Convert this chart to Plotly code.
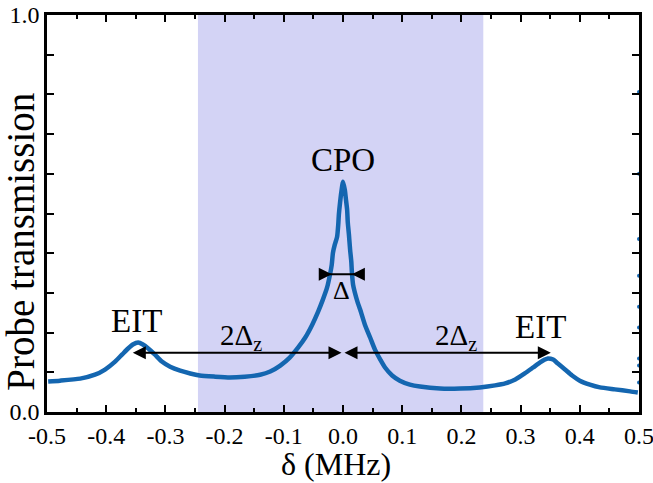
import plotly.graph_objects as go

delta_mhz = [-0.498, -0.478, -0.444, -0.419, -0.402, -0.385, -0.373, -0.363, -0.355,
             -0.346, -0.338, -0.329, -0.318, -0.306, -0.292, -0.275, -0.258, -0.242,
             -0.216, -0.191, -0.166, -0.140, -0.123, -0.106, -0.090, -0.076, -0.064,
             -0.052, -0.042, -0.034, -0.027, -0.022, -0.019, -0.017, -0.014, -0.010,
             -0.008, -0.007, -0.005, -0.003, 0.000, 0.003, 0.005, 0.007, 0.008,
             0.010, 0.012, 0.014, 0.015, 0.017, 0.020, 0.025, 0.029, 0.037, 0.046,
             0.054, 0.063, 0.071, 0.083, 0.096, 0.113, 0.130, 0.164, 0.198, 0.231,
             0.257, 0.274, 0.291, 0.307, 0.321, 0.333, 0.341, 0.346, 0.355, 0.363,
             0.375, 0.387, 0.400, 0.417, 0.434, 0.459, 0.485, 0.498]
transmission = [0.077, 0.079, 0.084, 0.094, 0.107, 0.127, 0.145, 0.160, 0.170,
                0.175, 0.170, 0.160, 0.145, 0.127, 0.114, 0.104, 0.097, 0.092,
                0.089, 0.087, 0.089, 0.094, 0.102, 0.117, 0.137, 0.162, 0.187,
                0.220, 0.253, 0.283, 0.313, 0.346, 0.371, 0.401, 0.421, 0.441,
                0.472, 0.497, 0.527, 0.552, 0.580, 0.560, 0.535, 0.509, 0.479,
                0.447, 0.409, 0.379, 0.353, 0.321, 0.301, 0.275, 0.258, 0.220, 0.187,
                0.157, 0.132, 0.112, 0.092, 0.079, 0.069, 0.064, 0.059, 0.059, 0.062,
                0.067, 0.072, 0.082, 0.097, 0.112, 0.125, 0.132, 0.135, 0.132, 0.122,
                0.107, 0.092, 0.079, 0.069, 0.062, 0.057, 0.052, 0.049]

# scattered points at the end of the sweep (x = 0.5)
edge_x = [0.5, 0.5, 0.5, 0.5, 0.5, 0.5, 0.5, 0.5, 0.5]
edge_y = [0.806, 0.600, 0.436, 0.343, 0.265, 0.213, 0.135, 0.117, 0.074]

x_tick_vals = [-0.5, -0.4, -0.3, -0.2, -0.1, 0.0, 0.1, 0.2, 0.3, 0.4, 0.5]
x_tick_text = ["-0.5", "-0.4", "-0.3", "-0.2", "-0.1", "0.0", "0.1", "0.2", "0.3", "0.4", "0.5"]
y_tick_vals = [0.0, 1.0]
y_tick_text = ["0.0", "1.0"]

# shaded (CPO) region
shade_range = [-0.245, 0.237]

FONT = "Liberation Serif"
BLUE = "#1466b0"

fig = go.Figure()
fig.add_trace(go.Scatter(x=delta_mhz, y=transmission, mode="lines",
                         line=dict(color=BLUE, width=4.5, shape="spline", smoothing=0.6),
                         showlegend=False, hoverinfo="skip"))
fig.add_trace(go.Scatter(x=edge_x, y=edge_y, mode="markers",
                         marker=dict(color=BLUE, size=4),
                         showlegend=False, hoverinfo="skip", cliponaxis=False))

fig.add_shape(type="rect", xref="x", yref="paper", x0=shade_range[0], x1=shade_range[1],
              y0=0, y1=1, fillcolor="#d3d3f5", line=dict(width=0), layer="below")

ann = []
def text(x, y, s, size):
    ann.append(dict(x=x, y=y, xref="x", yref="y", text=s, showarrow=False,
                    font=dict(family=FONT, size=size, color="black")))

text(-0.348, 0.228, "EIT", 33)
text(0.000, 0.635, "CPO", 33)
text(0.333, 0.213, "EIT", 33)
text(-0.172, 0.190, "2Δ<sub>z</sub>", 29)
text(0.191, 0.190, "2Δ<sub>z</sub>", 29)
text(-0.002, 0.305, "Δ", 26)

def arrow(x, y, ax, ay, both=False):
    ann.append(dict(x=x, y=y, ax=ax, ay=ay, xref="x", yref="y", axref="x", ayref="y",
                    text="", showarrow=True, arrowhead=2, startarrowhead=2,
                    arrowside="end+start" if both else "end",
                    arrowsize=1.3, startarrowsize=1.3, arrowwidth=2, arrowcolor="black"))

arrow(-0.355, 0.149, 0.0, 0.149, both=True)
arrow(0.351, 0.149, 0.0, 0.149, both=True)
arrow(-0.019, 0.347, -0.040, 0.347)
arrow(0.015, 0.347, 0.033, 0.347)
fig.add_shape(type="line", xref="x", yref="y", x0=-0.038, x1=0.031, y0=0.347, y1=0.347,
              line=dict(color="black", width=2))

# axis titles
ann.append(dict(x=-0.045, y=0.43, xref="paper", yref="paper", text="Probe transmission",
                textangle=-90, showarrow=False, xanchor="center", yanchor="middle",
                font=dict(family=FONT, size=39, color="black")))
ann.append(dict(x=0.488, y=-0.13, xref="paper", yref="paper", text="δ (MHz)",
                showarrow=False, xanchor="center", yanchor="middle",
                font=dict(family=FONT, size=32, color="black")))

fig.update_layout(
    width=653, height=483,
    margin=dict(l=47, r=14, t=15, b=71, autoexpand=False),
    plot_bgcolor="white", paper_bgcolor="white",
    annotations=ann,
    font=dict(family=FONT, color="black"),
)
fig.update_xaxes(range=[-0.5, 0.5], tickvals=x_tick_vals, ticktext=x_tick_text,
                 ticks="inside", ticklen=7, tickwidth=2, tickcolor="black",
                 minor=dict(dtick=0.05, tick0=0, ticks="inside", ticklen=4, tickwidth=2,
                            tickcolor="black", showgrid=False),
                 showline=True, linewidth=2.5, linecolor="black", mirror="ticks",
                 showgrid=False, zeroline=False, automargin=False,
                 ticklabeloverflow="allow",
                 tickfont=dict(family=FONT, size=24, color="black"))
fig.update_yaxes(range=[0, 1.0], tickvals=y_tick_vals, ticktext=y_tick_text,
                 ticks="inside", ticklen=7, tickwidth=2, tickcolor="black",
                 minor=dict(dtick=0.1, tick0=0, ticks="inside", ticklen=7, tickwidth=2,
                            tickcolor="black", showgrid=False),
                 showline=True, linewidth=2.5, linecolor="black", mirror="ticks",
                 showgrid=False, zeroline=False, automargin=False,
                 ticklabeloverflow="allow",
                 tickfont=dict(family=FONT, size=24, color="black"))

fig.write_html("out.html", config={"displayModeBar": False},
               post_script="document.body.style.margin='0px';")
